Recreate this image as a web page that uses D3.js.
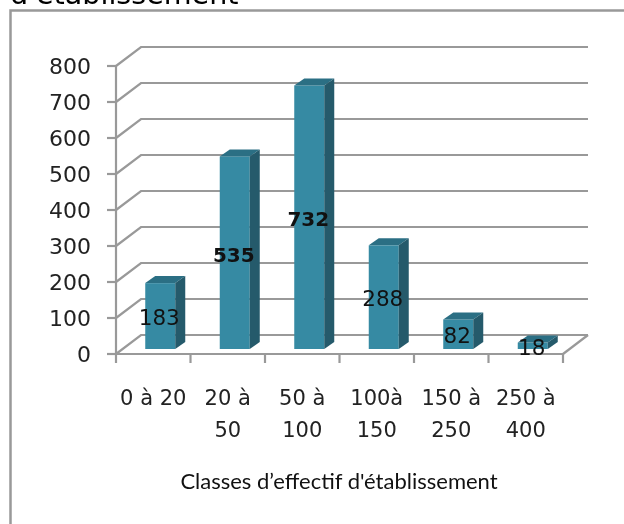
<!DOCTYPE html>
<html>
<head>
<meta charset="utf-8">
<script src="https://cdn.jsdelivr.net/npm/d3@7"></script>
<style>
html, body { margin: 0; padding: 0; background: #fff; }
svg { display: block; filter: blur(0.45px); }
</style>
</head>
<body>
<svg width="624" height="524"></svg>
<script>
var categories = ["0 à 20", "20 à 50", "50 à 100", "100à 150", "150 à 250", "250 à 400"];
var labelLines = [["0 à 20"], ["20 à", "50"], ["50 à", "100"], ["100à", "150"], ["150 à", "250"], ["250 à", "400"]];
var values = [183, 535, 732, 288, 82, 18];
var boldLabels = [535, 732];
var yTicks = [0, 100, 200, 300, 400, 500, 600, 700, 800];
var chartTitle = "d'établissement";
var axisTitle = "Classes d’effectif d'établissement";

var svg = d3.select("svg");

var x = d3.scaleBand().domain(categories).range([116, 563]);
var y = d3.scaleLinear().domain([0, 800]).range([354, 66]);

// depth of the floor and of the bars, 3d look of the old excel chart
var depthX = 25, depthY = 19;
var barDx = 10, barDy = 7;
var barW = 30, barOffX = 7, barOffY = 5;
var axisColor = "#999";

// title cut off by the top of the picture
svg.append("text")
    .attr("x", 10).attr("y", 4)
    .attr("font-family", "DejaVu Sans").attr("font-size", 28.6)
    .attr("fill", "#000")
    .text(chartTitle);

// frame
svg.append("rect")
    .attr("x", 10.5).attr("y", 10.5)
    .attr("width", 640).attr("height", 540)
    .attr("fill", "#fff")
    .attr("stroke", axisColor).attr("stroke-width", 2.5);

// walls
var grid = svg.append("g").attr("fill", "none").attr("stroke", axisColor).attr("stroke-width", 2.2);
yTicks.forEach(function(t) {
    grid.append("path")
        .attr("d", d3.line()([[116, y(t)], [116 + depthX, y(t) - depthY], [563 + depthX, y(t) - depthY]]));
    grid.append("line")
        .attr("x1", 107).attr("x2", 116)
        .attr("y1", y(t)).attr("y2", y(t));
});
grid.append("path").attr("d", d3.line()([[563, 354], [563 + depthX, 354 - depthY]]));
grid.append("line").attr("x1", 116).attr("x2", 116).attr("y1", y(800)).attr("y2", 363);
grid.append("line").attr("x1", 107).attr("x2", 563).attr("y1", 354).attr("y2", 354);
x.domain().forEach(function(c) {
    grid.append("line")
        .attr("x1", x(c) + x.bandwidth()).attr("x2", x(c) + x.bandwidth())
        .attr("y1", 354).attr("y2", 363);
});

// bars: front, top, side
var bars = svg.append("g").selectAll("g")
    .data(values)
    .enter().append("g");

function left(d, i) { return x(categories[i]) + x.bandwidth() / 2 + barOffX - barW / 2; }
function top3d(d) { return y(d) - barOffY; }
var base = y(0) - barOffY;

bars.append("rect")
    .attr("x", left)
    .attr("y", top3d)
    .attr("width", barW)
    .attr("height", function(d) { return base - top3d(d); })
    .attr("fill", "#368aa3");

bars.append("path")
    .attr("fill", "#2b6f84")
    .attr("d", function(d, i) {
        var l = left(d, i), t = top3d(d);
        return d3.line()([[l, t], [l + barDx, t - barDy], [l + barW + barDx, t - barDy], [l + barW, t]]) + "Z";
    });

bars.append("path")
    .attr("fill", "#255a6b")
    .attr("d", function(d, i) {
        var l = left(d, i) + barW, t = top3d(d);
        return d3.line()([[l, t], [l + barDx, t - barDy], [l + barDx, base - barDy], [l, base]]) + "Z";
    });

// data labels
bars.append("text")
    .attr("x", function(d, i) { return left(d, i) + barW / 2 - 1; })
    .attr("y", function(d) { return (top3d(d) + base) / 2 + 9; })
    .attr("text-anchor", "middle")
    .attr("font-family", "DejaVu Sans").attr("font-size", function(d) { return boldLabels.indexOf(d) >= 0 ? 20 : 21.5; })
    .attr("font-weight", function(d) { return boldLabels.indexOf(d) >= 0 ? "bold" : "normal"; })
    .attr("fill", "#111")
    .text(function(d) { return d; });

// y tick labels
svg.append("g").selectAll("text")
    .data(yTicks)
    .enter().append("text")
    .attr("x", 91).attr("y", function(d) { return y(d) + 8; })
    .attr("text-anchor", "end")
    .attr("font-family", "DejaVu Sans").attr("font-size", 22)
    .attr("fill", "#222")
    .text(function(d) { return d; });

// x tick labels
var xl = svg.append("g").selectAll("text")
    .data(categories)
    .enter().append("text")
    .attr("text-anchor", "middle")
    .attr("font-family", "DejaVu Sans").attr("font-size", 21)
    .attr("fill", "#222");
xl.each(function(c, i) {
    d3.select(this).selectAll("tspan")
        .data(labelLines[i])
        .enter().append("tspan")
        .attr("x", x(c) + x.bandwidth() / 2 + 0)
        .attr("y", function(l, j) { return 405 + j * 32; })
        .text(function(l) { return l; });
});

// axis title
svg.append("text")
    .attr("x", 339).attr("y", 489)
    .attr("text-anchor", "middle")
    .attr("font-family", "Lato").attr("font-size", 22)
    .attr("fill", "#111")
    .text(axisTitle);
</script>
</body>
</html>
